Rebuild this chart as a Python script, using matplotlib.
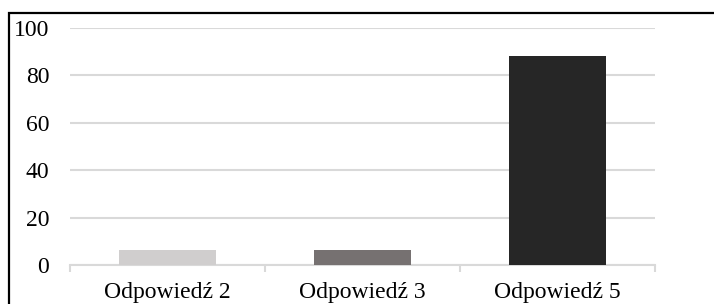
import matplotlib
matplotlib.use('Agg')
import matplotlib.pyplot as plt
from matplotlib.patches import Rectangle

categories = ['Odpowiedź 2', 'Odpowiedź 3', 'Odpowiedź 5']
values = [6.5, 6.5, 88]
colors = ['#d0cece', '#767171', '#262626']
yticks = [0, 20, 40, 60, 80, 100]

plt.rcParams['font.family'] = ['Liberation Serif', 'DejaVu Serif']
plt.rcParams['font.size'] = 17

W, H = 714, 304
fig = plt.figure(figsize=(W / 100, H / 100), dpi=100)
ax = fig.add_axes([70 / W, 1 - 265 / H, 585 / W, 237 / H])

x = range(len(categories))
ax.bar(x, values, width=0.5, color=colors, zorder=3)

ax.set_xlim(-0.5, len(categories) - 0.5)
ax.set_ylim(0, 100)
ax.set_yticks(yticks)
ax.yaxis.grid(True, color='#d9d9d9', linewidth=1.5, zorder=0)
ax.tick_params(axis='y', length=0, pad=15, labelcolor='black')

# category labels centred, tick marks on category boundaries
ax.set_xticks(list(x))
ax.set_xticklabels(categories)
ax.tick_params(axis='x', which='major', length=0, pad=12)
ax.set_xticks([i - 0.5 for i in range(len(categories) + 1)], minor=True)
ax.tick_params(axis='x', which='minor', length=5, width=1.5, color='#d9d9d9')

for s in ['top', 'right', 'left']:
    ax.spines[s].set_visible(False)
ax.spines['bottom'].set_color('#d9d9d9')
ax.spines['bottom'].set_linewidth(1.5)

# outer frame (only top and left edges fall inside the image)
fig.patches.append(Rectangle((9 / W, -0.2), 1.2, 1.2 - 13 / H,
                             transform=fig.transFigure, fill=False,
                             edgecolor='black', linewidth=1.6))

fig.savefig('out.png', dpi=100)
